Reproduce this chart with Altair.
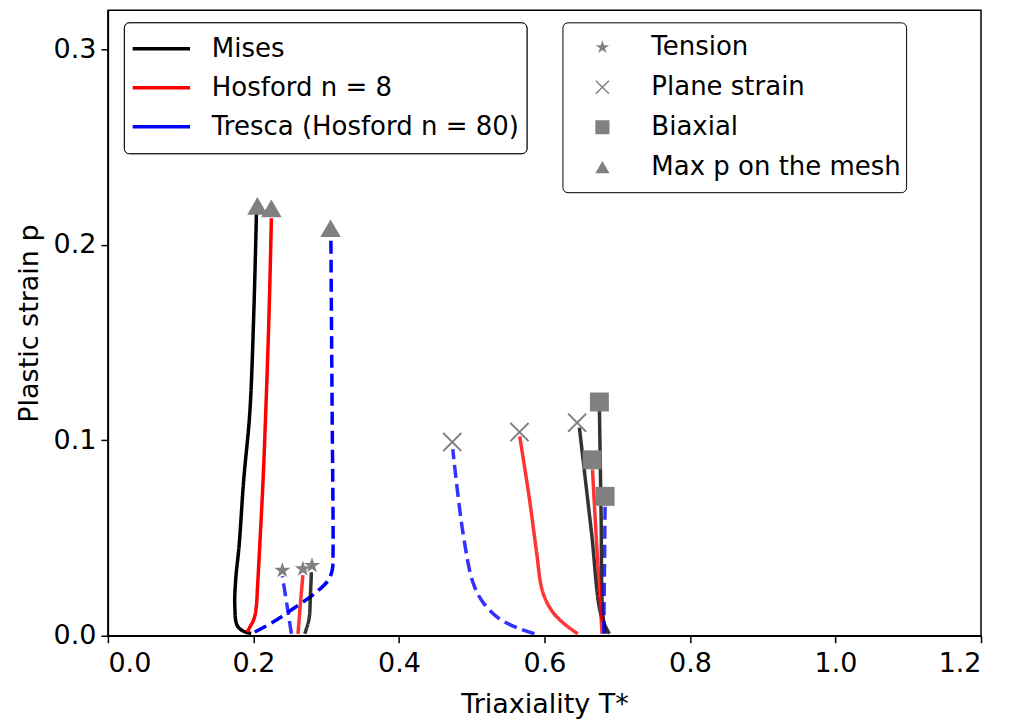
import altair as alt
import pandas as pd

FONT = "DejaVu Sans"
GRAY = "#808080"

criteria = ["Mises", "Hosford n = 8", "Tresca (Hosford n = 80)"]
crit_colors = ["#000000", "#ff0000", "#0000ff"]
crit_dash = [[1, 0], [1, 0], [13, 6]]

markers = ["Tension", "Plane strain", "Biaxial", "Max p on the mesh"]
STAR = "M0,-1L0.225,-0.309L0.951,-0.309L0.363,0.118L0.588,0.809L0,0.382L-0.588,0.809L-0.363,0.118L-0.951,-0.309L-0.225,-0.309Z"
XMARK = "M-1,-0.86L-0.86,-1L0,-0.14L0.86,-1L1,-0.86L0.14,0L1,0.86L0.86,1L0,0.14L-0.86,1L-1,0.86L-0.14,0Z"
marker_shapes = [STAR, XMARK, "square", "triangle-up"]
marker_sizes = [290, 380, 360, 420]

# ---- curves (x = triaxiality, y = plastic strain) ----
# Max p on the mesh
mises_max_x = [0.197, 0.1858, 0.1776, 0.1744, 0.1757, 0.1803, 0.1867, 0.195, 0.2005, 0.2042]
mises_max_y = [0.0012, 0.0024, 0.0053, 0.0155, 0.029, 0.046, 0.080, 0.114, 0.165, 0.217]
hos_max_x = [0.1913, 0.195, 0.2009, 0.2041, 0.2055, 0.2087, 0.2133, 0.2169, 0.2215, 0.2247]
hos_max_y = [0.0019, 0.0044, 0.0087, 0.0155, 0.024, 0.046, 0.080, 0.114, 0.165, 0.2136]
tre_max_x = [0.2018, 0.227, 0.2545, 0.2865, 0.303, 0.3085, 0.3094, 0.3094, 0.3085, 0.3075, 0.3065]
tre_max_y = [0.0019, 0.007, 0.0138, 0.0223, 0.0285, 0.034, 0.042, 0.063, 0.10, 0.15, 0.2026]

# Tension
mises_ten_x = [0.2705, 0.2765, 0.2783, 0.2797]
mises_ten_y = [0.001, 0.0087, 0.0206, 0.0325]
hos_ten_x = [0.2613, 0.2645, 0.268]
hos_ten_y = [0.001, 0.016, 0.031]
tre_ten_x = [0.2522, 0.246, 0.2398]
tre_ten_y = [0.001, 0.016, 0.0305]

# Plane strain
mises_ps_x = [0.6893, 0.6778, 0.6646, 0.648]
mises_ps_y = [0.001, 0.0104, 0.0529, 0.1065]
hos_ps_x = [0.6458, 0.6298, 0.6114, 0.5977, 0.5886, 0.5794, 0.566]
hos_ps_y = [0.001, 0.0053, 0.0121, 0.0223, 0.0444, 0.0699, 0.102]
tre_ps_x = [0.5863, 0.5657, 0.538, 0.5153, 0.5016, 0.4879, 0.474]
tre_ps_y = [0.001, 0.0036, 0.0087, 0.0172, 0.0274, 0.0529, 0.0954]

# Biaxial
mises_bi_x = [0.684, 0.680, 0.6778, 0.6755]
mises_bi_y = [0.001, 0.012, 0.063, 0.116]
hos_bi_x = [0.679, 0.6778, 0.672, 0.666]
hos_bi_y = [0.001, 0.010, 0.045, 0.085]
tre_bi_x = [0.6815, 0.6825, 0.6833]
tre_bi_y = [0.001, 0.035, 0.066]

# ---- end markers ----
pt_marker = ["Tension", "Tension", "Tension",
             "Plane strain", "Plane strain", "Plane strain",
             "Biaxial", "Biaxial", "Biaxial",
             "Max p on the mesh", "Max p on the mesh", "Max p on the mesh"]
pt_x = [0.2398, 0.268, 0.2805,
        0.4733, 0.5657, 0.6449,
        0.6755, 0.6655, 0.6833,
        0.2055, 0.2247, 0.306]
pt_y = [0.0334, 0.0342, 0.0359,
        0.0991, 0.1042, 0.109,
        0.1196, 0.090, 0.0713,
        0.220, 0.2187, 0.2085]

curves = [
    ("Mises", "max", 1.0, mises_max_x, mises_max_y),
    ("Hosford n = 8", "max", 1.0, hos_max_x, hos_max_y),
    ("Tresca (Hosford n = 80)", "max", 1.0, tre_max_x, tre_max_y),
    ("Mises", "ten", 0.8, mises_ten_x, mises_ten_y),
    ("Hosford n = 8", "ten", 0.8, hos_ten_x, hos_ten_y),
    ("Tresca (Hosford n = 80)", "ten", 0.8, tre_ten_x, tre_ten_y),
    ("Mises", "ps", 0.8, mises_ps_x, mises_ps_y),
    ("Hosford n = 8", "ps", 0.8, hos_ps_x, hos_ps_y),
    ("Tresca (Hosford n = 80)", "ps", 0.8, tre_ps_x, tre_ps_y),
    ("Mises", "bi", 0.8, mises_bi_x, mises_bi_y),
    ("Hosford n = 8", "bi", 0.8, hos_bi_x, hos_bi_y),
    ("Tresca (Hosford n = 80)", "bi", 0.8, tre_bi_x, tre_bi_y),
]

rows = []
for crit, case, alpha, xs, ys in curves:
    for i, (xv, yv) in enumerate(zip(xs, ys)):
        rows.append({"crit": crit, "case": crit + "_" + case, "alpha": alpha,
                     "x": xv, "y": yv, "o": i})
lines_df = pd.DataFrame(rows)

pts_df = pd.DataFrame({"marker": pt_marker, "x": pt_x, "y": pt_y,
                       "size": [marker_sizes[markers.index(m)] for m in pt_marker]})

xscale = alt.Scale(domain=[0, 1.2], nice=False, zero=False)
yscale = alt.Scale(domain=[0, 0.32], nice=False, zero=False)

xaxis = alt.Axis(title="Triaxiality T*", values=[0, 0.2, 0.4, 0.6, 0.8, 1.0, 1.2],
                 format=".1f", grid=False, labelPadding=8, titlePadding=15)
yaxis = alt.Axis(title="Plastic strain p", values=[0, 0.1, 0.2, 0.3],
                 format=".1f", grid=False, labelPadding=5, titlePadding=10)

line_legend = alt.Legend(
    title=None, orient="none", legendX=16, legendY=12,
    symbolType="stroke", symbolStrokeWidth=3.5, symbolSize=3300,
    clipHeight=39, rowPadding=0, padding=7, labelOffset=20, labelFontSize=26,
    labelFont=FONT, labelColor="black", labelLimit=600,
    strokeColor="black", fillColor="white", cornerRadius=5,
)

lines = alt.Chart(lines_df).mark_line(strokeWidth=3.5, clip=True,
                                      interpolate="catmull-rom").encode(
    x=alt.X("x:Q", scale=xscale, axis=xaxis),
    y=alt.Y("y:Q", scale=yscale, axis=yaxis),
    color=alt.Color("crit:N", scale=alt.Scale(domain=criteria, range=crit_colors),
                    legend=line_legend),
    strokeDash=alt.StrokeDash("crit:N", scale=alt.Scale(domain=criteria, range=crit_dash),
                              legend=line_legend),
    detail="case:N",
    order="o:Q",
    opacity=alt.Opacity("alpha:Q", scale=None),
)

marker_legend = alt.Legend(
    title=None, orient="none", legendX=455, legendY=12,
    symbolSize=200, clipHeight=40, rowPadding=0, padding=5, symbolOffset=22,
    labelOffset=36, labelFontSize=26, labelFont=FONT, labelColor="black",
    labelLimit=600,
    symbolFillColor=GRAY, symbolStrokeWidth=0,
    strokeColor="black", fillColor="white", cornerRadius=5,
)

points = alt.Chart(pts_df).mark_point(filled=True, color=GRAY, opacity=1).encode(
    x=alt.X("x:Q", scale=xscale),
    y=alt.Y("y:Q", scale=yscale),
    shape=alt.Shape("marker:N", scale=alt.Scale(domain=markers, range=marker_shapes),
                    legend=marker_legend),
    size=alt.Size("size:Q", scale=None),
)

chart = alt.layer(lines, points).resolve_legend(
    color="independent", shape="independent"
).properties(
    width=874, height=626,
    autosize=alt.AutoSizeParams(type="none"),
    padding={"left": 100, "top": 2, "right": 20, "bottom": 84},
).configure_view(
    stroke="black", strokeWidth=1.5
).configure_axis(
    labelFont=FONT, titleFont=FONT, labelFontSize=27, titleFontSize=27,
    titleFontWeight="normal", labelColor="black", titleColor="black",
    domainColor="black", domainWidth=1.5, tickColor="black", tickWidth=1.5,
    tickSize=7,
)

chart.save("out.html", embed_options={"renderer": "svg", "actions": False})
